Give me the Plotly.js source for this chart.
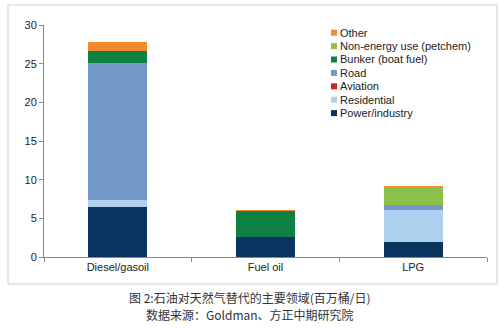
<!DOCTYPE html>
<html><head><meta charset="utf-8">
<script src="https://cdn.plot.ly/plotly-3.0.1.min.js"></script>
<style>html,body{margin:0;padding:0;background:#fff}#c{width:500px;height:330px}</style>
</head><body><div id="c"></div>
<script>
const categories = ["Diesel/gasoil", "Fuel oil", "LPG"];
const powerIndustry = [6.5, 2.63, 1.94];
const residential = [0.87, 0, 4.14];
const aviation = [0, 0, 0];
const road = [17.7, 0, 0.65];
const bunker = [1.6, 3.36, 0];
const nonEnergy = [0, 0, 2.29];
const other = [1.15, 0.05, 0.18];

const seriesNames = ["Power/industry", "Residential", "Aviation", "Road", "Bunker (boat fuel)", "Non-energy use (petchem)", "Other"];
const seriesValues = [powerIndustry, residential, aviation, road, bunker, nonEnergy, other];
const seriesColors = ["#08345f", "#aed0ee", "#c8282d", "#7399c9", "#0f8044", "#8dc04b", "#f28b2e"];

const traces = seriesNames.map((n, i) => ({
  type: "bar", name: n, x: categories, y: seriesValues[i],
  marker: {color: seriesColors[i], line: {width: 0}}, hoverinfo: "skip", showlegend: false
}));

const W = 500, H = 330, mL = 44, mR = 13, mT = 25, mB = 73;
const pw = W - mL - mR, ph = H - mT - mB;
const px = x => (x - mL) / pw, py = y => (H - mB - y) / ph;

const shapes = [{type: "rect", xref: "paper", yref: "paper", x0: px(8), x1: px(497), y0: py(5), y1: py(284),
  line: {color: "#cfcfcf", width: 1}, fillcolor: "rgba(0,0,0,0)", layer: "below"}];
const annotations = [
  {xref: "paper", yref: "paper", x: px(250), y: py(297), xanchor: "center", yanchor: "middle", showarrow: false,
   text: "图 2:石油对天然气替代的主要领域(百万桶/日)", font: {family: "Noto Sans CJK SC", size: 12, color: "#333"}},
  {xref: "paper", yref: "paper", x: px(250), y: py(314), xanchor: "center", yanchor: "middle", showarrow: false,
   text: "数据来源：Goldman、方正中期研究院", font: {family: "Noto Sans CJK SC", size: 12, color: "#333"}}
];
// custom compact legend (reversed order: Other on top)
const legX = 331, legY0 = 32.7, legStep = 13.4, sq = 6;
for (let k = 0; k < seriesNames.length; k++) {
  const i = seriesNames.length - 1 - k;
  const cy = legY0 + k * legStep;
  shapes.push({type: "rect", xref: "paper", yref: "paper", x0: px(legX), x1: px(legX + sq),
    y0: py(cy + sq / 2), y1: py(cy - sq / 2), line: {width: 0}, fillcolor: seriesColors[i]});
  annotations.push({xref: "paper", yref: "paper", x: px(legX + sq + 1), y: py(cy), xanchor: "left", yanchor: "middle",
    showarrow: false, text: seriesNames[i], font: {size: 11, color: "#222"}});
}

const layout = {
  width: W, height: H,
  margin: {l: mL, r: mR, t: mT, b: mB, pad: 0},
  paper_bgcolor: "#fff", plot_bgcolor: "#fff",
  barmode: "stack", bargap: 0.6,
  font: {family: "Liberation Sans, Arial, sans-serif", size: 11, color: "#222"},
  showlegend: false,
  xaxis: {showline: true, linecolor: "#888", linewidth: 1, ticks: "outside", tickson: "boundaries",
    ticklen: 4, tickcolor: "#888", showgrid: false, zeroline: false, fixedrange: true},
  yaxis: {range: [0, 30], dtick: 5, showline: true, linecolor: "#888", linewidth: 1, ticks: "outside",
    ticklen: 4, tickcolor: "#888", showgrid: false, zeroline: false, fixedrange: true},
  shapes: shapes,
  annotations: annotations
};
Plotly.newPlot("c", traces, layout, {displayModeBar: false, staticPlot: true});
</script></body></html>
